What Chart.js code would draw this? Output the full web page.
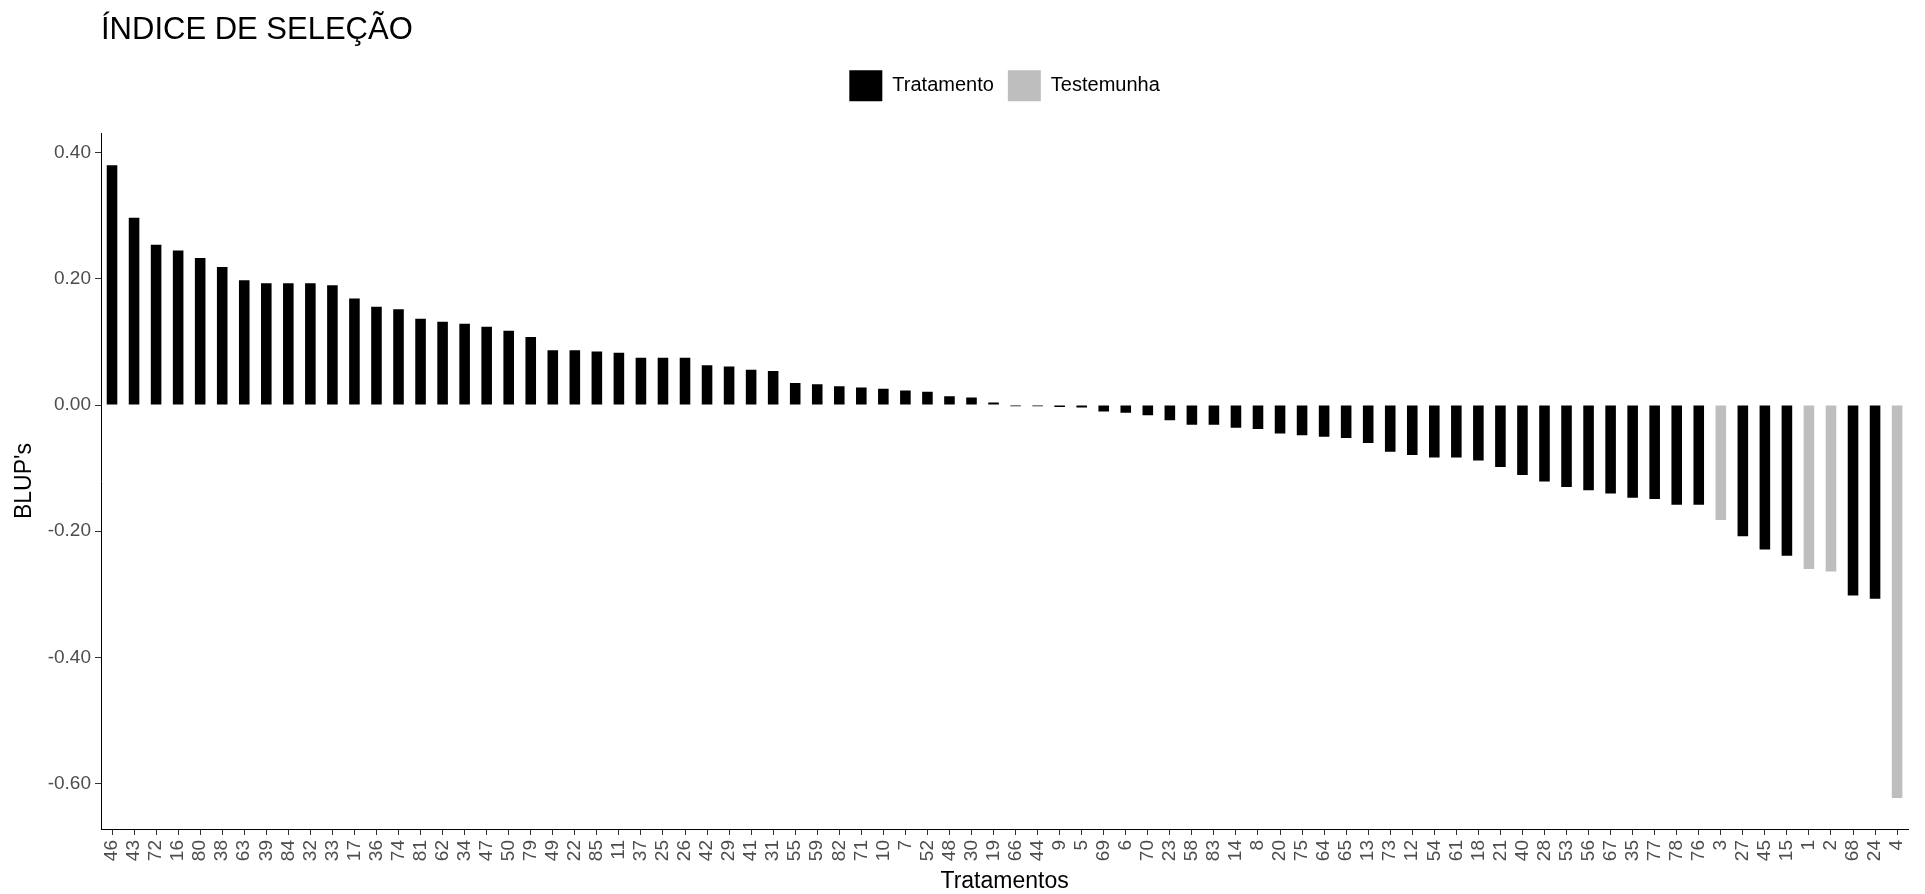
<!DOCTYPE html>
<html>
<head>
<meta charset="utf-8">
<title>Índice de seleção</title>
<script src="https://cdn.jsdelivr.net/npm/chart.js@4.4.1/dist/chart.umd.min.js"></script>
<style>
  body { margin: 0; background: #fff; }
  #chartIndice { display: block; }
</style>
</head>
<body>
<canvas id="chartIndice" width="1925" height="894"></canvas>
<script>
// tratamentos na ordem do grafico (BLUP decrescente)
const tratamentos = [
    "46", "43", "72", "16", "80", "38", "63", "39", "84", "32",
    "33", "17", "36", "74", "81", "62", "34", "47", "50", "79",
    "49", "22", "85", "11", "37", "25", "26", "42", "29", "41",
    "31", "55", "59", "82", "71", "10", "7", "52", "48", "30",
    "19", "66", "44", "9", "5", "69", "6", "70", "23", "58",
    "83", "14", "8", "20", "75", "64", "65", "13", "73", "12",
    "54", "61", "18", "21", "40", "28", "53", "56", "67", "35",
    "77", "78", "76", "3", "27", "45", "15", "1", "2", "68",
    "24", "4",
];

const blups = [
    0.380, 0.297, 0.254, 0.245, 0.233, 0.219, 0.198, 0.193, 0.193, 0.193,
    0.190, 0.169, 0.156, 0.152, 0.137, 0.132, 0.129, 0.124, 0.118, 0.108,
    0.087, 0.087, 0.085, 0.083, 0.075, 0.075, 0.075, 0.063, 0.061, 0.056,
    0.054, 0.035, 0.033, 0.030, 0.028, 0.026, 0.023, 0.021, 0.014, 0.012,
    0.004, -0.002, -0.002, -0.003, -0.004, -0.010, -0.012, -0.016, -0.024, -0.031,
    -0.031, -0.036, -0.038, -0.045, -0.048, -0.050, -0.052, -0.060, -0.074, -0.079,
    -0.083, -0.083, -0.088, -0.098, -0.111, -0.121, -0.130, -0.135, -0.140, -0.147,
    -0.149, -0.158, -0.158, -0.182, -0.208, -0.229, -0.239, -0.260, -0.264, -0.302,
    -0.307, -0.623,
];

// testemunhas (cinza)
const testemunhas = ["3", "1", "2", "4"];

const yTicks = [-0.6, -0.4, -0.2, 0, 0.2, 0.4];

const fonte = "'Liberation Sans', Arial, sans-serif";

const ehTestemunha = tratamentos.map((t) => testemunhas.includes(t));

const dataIndice = {
    labels: tratamentos,
    datasets: [
        {
            label: "Tratamento",
            data: blups.map((v, i) => (ehTestemunha[i] ? null : v)),
            backgroundColor: "#000000",
        },
        {
            label: "Testemunha",
            data: blups.map((v, i) => (ehTestemunha[i] ? v : null)),
            backgroundColor: "#bebebe",
        },
    ],
};

const configIndice = {
    type: "bar",
    data: dataIndice,
    options: {
        responsive: false,
        animation: false,
        datasets: {
            bar: {
                grouped: false,
                borderWidth: 0,
                barPercentage: 0.48,
                categoryPercentage: 1,
            },
        },
        layout: {
            padding: { left: 0, right: 4, top: 0, bottom: 0 },
        },
        plugins: {
            // titulo e legenda alinhados ao painel (fullSize false)
            title: {
                display: true,
                fullSize: false,
                text: "ÍNDICE DE SELEÇÃO",
                align: "start",
                color: "#000",
                font: { family: fonte, size: 31, weight: "normal" },
                padding: { top: 12, bottom: 7 },
            },
            // espaco vazio entre a legenda e o painel
            subtitle: {
                display: true,
                text: "",
                weight: 500,
                font: { size: 10 },
                padding: { top: 10, bottom: 0 },
            },
            legend: {
                position: "top",
                fullSize: false,
                labels: {
                    boxWidth: 33,
                    boxHeight: 31,
                    padding: 14,
                    color: "#000",
                    font: { family: fonte, size: 20 },
                },
            },
            tooltip: { enabled: false },
        },
        scales: {
            x: {
                offset: true,
                grid: {
                    drawOnChartArea: false,
                    offset: false,
                    tickLength: 6,
                    color: "#333",
                },
                border: { color: "#000", width: 1 },
                ticks: {
                    autoSkip: false,
                    minRotation: 90,
                    maxRotation: 90,
                    padding: 5,
                    color: "#4d4d4d",
                    font: { family: fonte, size: 19 },
                },
                title: {
                    display: true,
                    text: "Tratamentos",
                    color: "#000",
                    font: { family: fonte, size: 23 },
                    padding: { top: 0, bottom: -1 },
                },
                afterFit: (scale) => {
                    scale.height = 65;
                },
            },
            y: {
                min: -0.672,
                max: 0.431,
                afterBuildTicks: (scale) => {
                    scale.ticks = yTicks.map((v) => ({ value: v }));
                },
                grid: {
                    drawOnChartArea: false,
                    tickLength: 6,
                    color: "#333",
                },
                border: { color: "#000", width: 1 },
                ticks: {
                    padding: 4,
                    color: "#4d4d4d",
                    font: { family: fonte, size: 19 },
                    callback: (v) => Number(v).toFixed(2),
                },
                title: {
                    display: true,
                    text: "BLUP's",
                    color: "#000",
                    font: { family: fonte, size: 23 },
                    padding: { top: 11, bottom: 0 },
                },
                afterFit: (scale) => {
                    scale.width = 101;
                },
            },
        },
    },
};

var chartIndice = new Chart(
    document.getElementById("chartIndice"),
    configIndice
);
</script>
</body>
</html>
